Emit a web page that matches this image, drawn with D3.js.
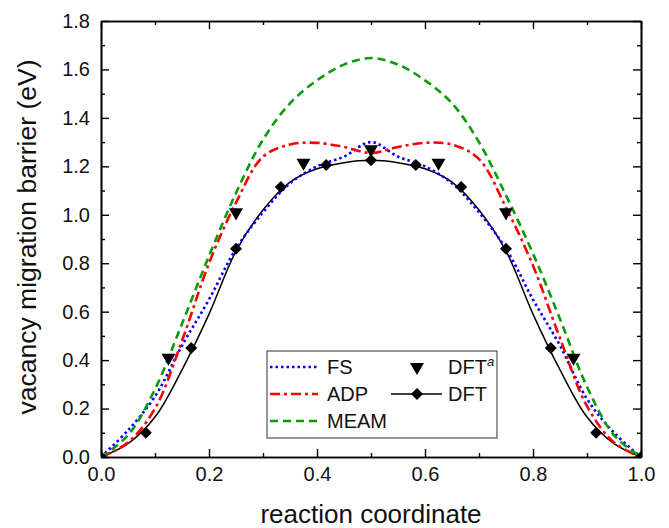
<!DOCTYPE html>
<html>
<head>
<meta charset="utf-8">
<script src="https://cdn.jsdelivr.net/npm/d3@7"></script>
<style>
  body { margin: 0; background: #fff; }
  text { font-family: 'Liberation Sans', Arial, sans-serif; }
</style>
</head>
<body>
<script>
// data
var xs = [0, 0.05, 0.1, 0.15, 0.2, 0.25, 0.3, 0.35, 0.4, 0.45, 0.5,
          0.55, 0.6, 0.65, 0.7, 0.75, 0.8, 0.85, 0.9, 0.95, 1.0]
var fs   = [0, 0.11, 0.25, 0.46, 0.65, 0.86, 1.01, 1.13, 1.20, 1.24, 1.30,
            1.24, 1.20, 1.13, 1.01, 0.86, 0.65, 0.46, 0.24, 0.10, 0]
var adp  = [0, 0.06, 0.20, 0.48, 0.80, 1.05, 1.24, 1.29, 1.297, 1.28, 1.255,
            1.28, 1.297, 1.29, 1.23, 1.03, 0.79, 0.49, 0.21, 0.06, 0]
var meam = [0, 0.09, 0.28, 0.55, 0.83, 1.09, 1.31, 1.46, 1.555, 1.62, 1.647,
            1.62, 1.555, 1.46, 1.30, 1.08, 0.84, 0.57, 0.29, 0.09, 0]
var dftLine = [0, 0.055, 0.165, 0.36, 0.59, 0.85, 1.02, 1.135, 1.19, 1.215, 1.225,
               1.215, 1.19, 1.135, 1.02, 0.85, 0.59, 0.36, 0.165, 0.055, 0]

var dftX = [0, 0.083, 0.167, 0.25, 0.333, 0.417, 0.5, 0.583, 0.667, 0.75, 0.833, 0.917, 1.0]
var dftY = [0, 0.10, 0.45, 0.86, 1.115, 1.205, 1.225, 1.205, 1.115, 0.86, 0.45, 0.10, 0]

var dftaX = [0.125, 0.25, 0.375, 0.5, 0.625, 0.75, 0.875]
var dftaY = [0.41, 1.01, 1.215, 1.27, 1.215, 1.01, 0.41]

var xTicks = [0, 0.2, 0.4, 0.6, 0.8, 1.0]
var xMinor = [0.1, 0.3, 0.5, 0.7, 0.9]
var yTicks = [0, 0.2, 0.4, 0.6, 0.8, 1.0, 1.2, 1.4, 1.6, 1.8]
var yMinor = [0.1, 0.3, 0.5, 0.7, 0.9, 1.1, 1.3, 1.5, 1.7]

var margin = { top: 21, right: 28, bottom: 71, left: 101 },
    width = 669 - margin.left - margin.right,
    height = 528 - margin.top - margin.bottom

var x = d3.scaleLinear().domain([0, 1]).range([0, width])
var y = d3.scaleLinear().domain([0, 1.8]).range([height, 0])

var svg = d3.select('body').append('svg')
    .attr('width', 669)
    .attr('height', 528)
    .append('g')
    .attr('transform', 'translate(' + margin.left + ',' + margin.top + ')')

svg.append('clipPath').attr('id', 'plot')
    .append('rect').attr('width', width).attr('height', height)

var series = [
    { name: 'FS', vals: fs, color: '#0000ff', dash: '2.5,3', width: 2.6 },
    { name: 'ADP', vals: adp, color: '#ff0000', dash: '10,4,3,4', width: 2.6 },
    { name: 'MEAM', vals: meam, color: '#0a9a0a', dash: '8,5', width: 2.6 }
]

var line = d3.line()
    .x(d => x(d[0]))
    .y(d => y(d[1]))
    .curve(d3.curveCatmullRom)

var plot = svg.append('g').attr('clip-path', 'url(#plot)')

// DFT fitted line
plot.append('path')
    .datum(xs.map((v, i) => [v, dftLine[i]]))
    .attr('fill', 'none')
    .attr('stroke', '#000')
    .attr('stroke-width', 1.5)
    .attr('d', line)

series.forEach(s => {
    plot.append('path')
        .datum(xs.map((v, i) => [v, s.vals[i]]))
        .attr('fill', 'none')
        .attr('stroke', s.color)
        .attr('stroke-width', s.width)
        .attr('stroke-dasharray', s.dash)
        .attr('d', line)
})

// diamond = square turned 45 degrees
var diamond = d3.symbol().type(d3.symbolSquare).size(72)
var tri = d3.symbol().type(d3.symbolTriangle).size(85)

plot.selectAll('.dft')
    .data(dftX.map((v, i) => [v, dftY[i]]))
    .enter().append('path')
    .attr('class', 'dft')
    .attr('d', diamond)
    .attr('transform', d => 'translate(' + x(d[0]) + ',' + y(d[1]) + ') rotate(45)')
    .attr('fill', '#000')

plot.selectAll('.dfta')
    .data(dftaX.map((v, i) => [v, dftaY[i]]))
    .enter().append('path')
    .attr('class', 'dfta')
    .attr('d', tri)
    .attr('transform', d => 'translate(' + x(d[0]) + ',' + y(d[1]) + ') rotate(180)')
    .attr('fill', '#000')

// axes, ticks inward on all four sides
function styleAxis(g) {
    g.selectAll('path.domain').attr('stroke-width', 1.6)
    g.selectAll('.tick line').attr('stroke-width', 1.4)
    g.selectAll('.tick text')
        .attr('font-size', 20)
        .attr('font-family', "'Liberation Sans', Arial, sans-serif")
        .attr('fill', '#111')
}

svg.append('g')
    .attr('transform', 'translate(0,' + height + ')')
    .call(d3.axisBottom(x).tickValues(xMinor).tickSize(-4).tickSizeOuter(0).tickFormat(''))
    .call(styleAxis)
svg.append('g')
    .attr('transform', 'translate(0,' + height + ')')
    .call(d3.axisBottom(x).tickValues(xTicks).tickSize(-8).tickSizeOuter(0)
        .tickPadding(10).tickFormat(d3.format('.1f')))
    .call(styleAxis)

svg.append('g')
    .call(d3.axisTop(x).tickValues(xMinor).tickSize(-4).tickSizeOuter(0).tickFormat(''))
    .call(styleAxis)
svg.append('g')
    .call(d3.axisTop(x).tickValues(xTicks).tickSize(-8).tickSizeOuter(0).tickFormat(''))
    .call(styleAxis)

svg.append('g')
    .call(d3.axisLeft(y).tickValues(yMinor).tickSize(-4).tickSizeOuter(0).tickFormat(''))
    .call(styleAxis)
svg.append('g')
    .call(d3.axisLeft(y).tickValues(yTicks).tickSize(-8).tickSizeOuter(0)
        .tickPadding(11).tickFormat(d3.format('.1f')))
    .call(styleAxis)

svg.append('g')
    .attr('transform', 'translate(' + width + ',0)')
    .call(d3.axisRight(y).tickValues(yMinor).tickSize(-4).tickSizeOuter(0).tickFormat(''))
    .call(styleAxis)
svg.append('g')
    .attr('transform', 'translate(' + width + ',0)')
    .call(d3.axisRight(y).tickValues(yTicks).tickSize(-8).tickSizeOuter(0).tickFormat(''))
    .call(styleAxis)

// axis titles
svg.append('text')
    .attr('x', width / 2)
    .attr('y', height + 66)
    .style('text-anchor', 'middle')
    .attr('font-size', 26)
    .attr('fill', '#111')
    .text('reaction coordinate')

svg.append('text')
    .attr('transform', 'rotate(-90)')
    .attr('x', -height / 2 + 2)
    .attr('y', -margin.left + 36)
    .style('text-anchor', 'middle')
    .attr('font-size', 26.5)
    .attr('fill', '#111')
    .text('vacancy migration barrier (eV)')

// legend
var lg = svg.append('g').attr('transform', 'translate(' + (267 - margin.left) + ',' + (351 - margin.top) + ')')
lg.append('rect')
    .attr('width', 230).attr('height', 87)
    .attr('fill', '#fff')
    .attr('stroke', '#555').attr('stroke-width', 1.2)

series.forEach((s, i) => {
    var ry = 16 + i * 27
    lg.append('line')
        .attr('x1', 3).attr('x2', 51).attr('y1', ry).attr('y2', ry)
        .attr('stroke', s.color).attr('stroke-width', s.width)
        .attr('stroke-dasharray', s.dash)
    lg.append('text')
        .attr('x', 60).attr('y', ry + 7)
        .attr('font-size', 20).attr('fill', '#111')
        .text(s.name)
})

lg.append('path')
    .attr('d', tri)
    .attr('transform', 'translate(150,16) rotate(180)')
lg.append('text')
    .attr('x', 181).attr('y', 23)
    .attr('font-size', 20).attr('fill', '#111')
    .text('DFT')
    .append('tspan')
    .attr('font-style', 'italic')
    .attr('font-size', 13)
    .attr('dy', -8)
    .text('a')

lg.append('line')
    .attr('x1', 124).attr('x2', 175).attr('y1', 43).attr('y2', 43)
    .attr('stroke', '#000').attr('stroke-width', 1.5)
lg.append('path')
    .attr('d', diamond)
    .attr('transform', 'translate(150,43) rotate(45)')
lg.append('text')
    .attr('x', 181).attr('y', 50)
    .attr('font-size', 20).attr('fill', '#111')
    .text('DFT')
</script>
</body>
</html>
